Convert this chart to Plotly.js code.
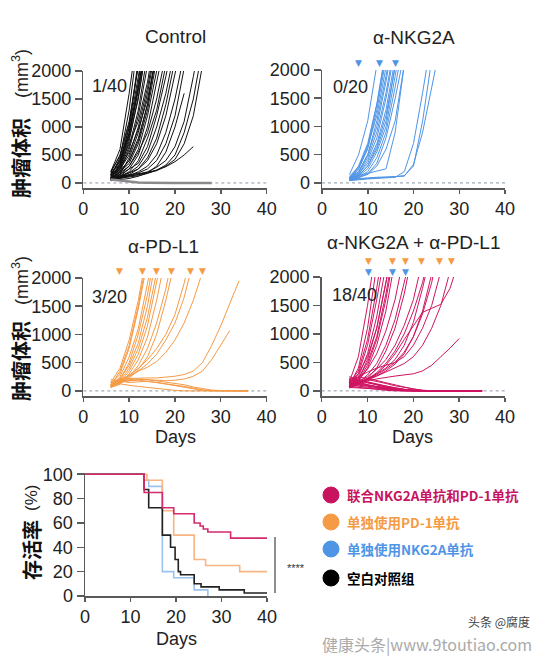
<!DOCTYPE html>
<html><head><meta charset="utf-8">
<script src="https://cdn.plot.ly/plotly-3.0.1.min.js"></script>
<style>html,body{margin:0;padding:0;background:#fff;}#chart{width:543px;height:656px;}</style>
</head><body><div id="chart"></div>
<script>
// ---------------- DATA ----------------
const xTickVals = [0, 10, 20, 30, 40];
const yTickVals = [0, 500, 1000, 1500, 2000];
const ctrlYTickText = ['0', '500', '000', '1500', '2000'];
const yTickText = ['0', '500', '1000', '1500', '2000'];
const survTickVals = [0, 20, 40, 60, 80, 100];

const panelTitles = ['Control', 'α-NKG2A', 'α-PD-L1', 'α-NKG2A + α-PD-L1'];
const fractions = ['1/40', '0/20', '3/20', '18/40'];

// measurement days (tumour volume, mm^3)
const ctrlDays = [6, 8, 10, 12, 14, 16, 18, 20, 22, 24, 26, 28];
const ctrlCurves = [
  [120, 450, 1300, 2600],
  [200, 600, 1600, 2800],
  [80, 350, 1000, 2200],
  [150, 400, 900, 1800, 3000],
  [100, 300, 800, 1500, 2600],
  [60, 250, 650, 1300, 2300],
  [180, 500, 1100, 2100],
  [90, 200, 600, 1200, 2100],
  [140, 300, 700, 1100, 1800, 2800],
  [70, 150, 450, 900, 1600, 2500],
  [110, 250, 500, 1000, 1700, 2600],
  [50, 200, 400, 800, 1400, 2300],
  [130, 200, 350, 700, 1300, 2200],
  [100, 180, 300, 600, 1200, 2000, 2800],
  [60, 120, 250, 500, 1000, 1700, 2600],
  [160, 220, 400, 750, 1400, 2400],
  [90, 150, 300, 550, 900, 1500, 2300],
  [70, 110, 200, 400, 800, 1300, 2100],
  [120, 150, 250, 350, 650, 1200, 1900, 2700],
  [80, 100, 180, 300, 550, 1000, 1600, 2400],
  [60, 90, 150, 250, 450, 800, 1400, 2200],
  [100, 130, 180, 250, 400, 700, 1200, 1900, 2700],
  [50, 80, 130, 200, 300, 500, 900, 1500, 2300],
  [90, 110, 140, 180, 250, 400, 700, 1200, 1900, 2900],
  [70, 90, 120, 150, 200, 280, 400, 650, 1100, 1900, 2800],
  [60, 80, 100, 130, 170, 230, 320, 500, 900, 1500, 2400],
  [80, 100, 120, 150, 180, 220, 300, 420, 700, 1200, 2100],
  [100, 120, 140, 160, 190, 230, 290, 380, 500, 650],
  [40, 60, 80, 120, 180, 300, 550, 1000, 1600],
  [150, 350, 900, 1700, 2700],
  [210, 480, 1050, 2100],
  [110, 260, 750, 1550, 2500],
  [170, 380, 850, 1650, 2600],
  [130, 280, 550, 950, 1500, 2300],
  [90, 330, 850, 1700, 2600],
  [140, 420, 980, 1900, 2900]
];
const ctrlFlat = [60, 40, 20, 10, 5, 0, 0, 0, 0, 0, 0, 0];

const nkgDays = [6, 8, 10, 12, 14, 16, 18, 20, 22, 24, 26];
const nkgCurves = [
  [150, 500, 1100, 2100],
  [80, 300, 700, 1400, 2300],
  [60, 250, 600, 1300, 2200],
  [120, 280, 650, 1200, 2050],
  [90, 200, 500, 1000, 1800, 2700],
  [70, 180, 450, 900, 1600, 2500],
  [50, 150, 400, 800, 1500, 2400],
  [100, 160, 350, 700, 1300, 2200],
  [60, 130, 300, 650, 1200, 2000, 2900],
  [80, 140, 300, 600, 1100, 2100],
  [70, 120, 250, 550, 1000, 1900, 2800],
  [50, 100, 200, 450, 900, 1700, 2600],
  [90, 130, 180, 220, 250, 900, 2100],
  [60, 80, 90, 100, 100, 110, 130, 300, 1100, 2200],
  [50, 70, 80, 90, 100, 110, 120, 330, 900, 1700, 2500],
  [40, 60, 70, 80, 90, 100, 200, 700, 1600, 2600],
  [70, 200, 500, 1100, 1900, 2800],
  [100, 250, 650, 1400, 2400],
  [60, 100, 150, 300, 600, 1100, 2100],
  [50, 90, 160, 350, 800, 1500, 2300]
];
const nkgDoseDays = [8, 12.5, 16];

const pdDays = [6, 8, 10, 12, 14, 16, 18, 20, 22, 24, 26, 28, 30, 32, 34, 36];
const pdCurves = [
  [150, 400, 900, 1600, 2500],
  [100, 350, 800, 1500, 2400],
  [110, 300, 750, 1450, 2300],
  [80, 250, 600, 1100, 1900, 2700],
  [60, 200, 500, 1000, 1700, 2600],
  [100, 220, 450, 850, 1500, 2400],
  [90, 180, 400, 750, 1300, 2100],
  [70, 150, 350, 650, 1150, 1900, 2700],
  [60, 120, 300, 550, 950, 1600, 2400],
  [80, 140, 250, 450, 750, 1200, 1800, 2600],
  [70, 130, 220, 380, 600, 1000, 1600, 2300],
  [100, 180, 280, 400, 550, 750, 1000, 1350, 1900, 2600],
  [90, 160, 250, 350, 480, 650, 900, 1200, 1650, 2300],
  [120, 200, 280, 350, 420, 520, 680, 900, 1200, 1600, 2100],
  [150, 200, 220, 230, 230, 230, 240, 260, 290, 350, 500, 800, 1150, 1550, 1950],
  [100, 150, 180, 200, 200, 190, 180, 190, 210, 260, 350, 550, 800, 1070],
  [200, 180, 150, 160, 170, 150, 120, 90, 60, 30, 10, 0, 0, 0, 0, 0],
  [150, 120, 100, 80, 60, 40, 20, 10, 0, 0, 0, 0, 0, 0, 0, 0],
  [100, 160, 180, 190, 170, 150, 130, 100, 80, 50, 20, 5, 0, 0, 0, 0],
  [120, 170, 200, 210, 200, 180, 160, 140, 110, 70, 40, 15, 5, 0, 0, 0]
];
const pdDoseDays = [8, 13, 16, 19.3, 23.3, 26];

const comboDays = [6, 8, 10, 12, 14, 16, 18, 20, 22, 24, 26, 28, 30, 32, 35];
const comboCurves = [
  [150, 600, 1500, 2600],
  [100, 400, 1100, 2200],
  [120, 350, 900, 1800, 2800],
  [80, 300, 800, 1600, 2500],
  [90, 250, 650, 1300, 2200],
  [60, 200, 550, 1100, 1900, 2700],
  [110, 220, 500, 950, 1700, 2600],
  [70, 170, 400, 800, 1400, 2300],
  [140, 300, 600, 1100, 1900, 2700],
  [60, 180, 450, 900, 1600, 2500],
  [100, 200, 380, 650, 1050, 1600, 2400],
  [80, 150, 280, 480, 800, 1250, 1900, 2600],
  [50, 110, 220, 400, 700, 1100, 1700, 2500],
  [100, 160, 250, 380, 550, 800, 1150, 1600, 2300],
  [60, 120, 200, 320, 480, 700, 1000, 1400, 1900, 2600],
  [90, 140, 220, 300, 400, 550, 800, 1200, 1800, 2500],
  [80, 130, 190, 260, 350, 470, 650, 950, 1400, 2050],
  [70, 130, 200, 280, 380, 500, 680, 950, 1350, 1900, 2700],
  [150, 250, 330, 400, 450, 500, 600, 800, 1100, 1500, 2100],
  [100, 150, 200, 260, 330, 400, 480, 600, 800, 1100, 1500, 2100],
  [60, 120, 200, 300, 450, 650, 900, 1150, 1380, 1450, 1520, 1800, 2300],
  [90, 140, 180, 210, 240, 260, 280, 300, 350, 450, 600, 750, 920],
  [200, 150, 100, 60, 30, 10, 0, 0, 0, 0, 0, 0, 0, 0, 0],
  [150, 120, 90, 60, 40, 20, 10, 0, 0, 0, 0, 0, 0, 0, 0],
  [100, 80, 60, 40, 20, 10, 0, 0, 0, 0, 0, 0, 0, 0, 0],
  [250, 200, 150, 100, 60, 30, 10, 0, 0, 0, 0, 0, 0, 0, 0],
  [180, 200, 160, 120, 80, 50, 20, 5, 0, 0, 0, 0, 0, 0, 0],
  [120, 150, 140, 110, 80, 50, 30, 10, 0, 0, 0, 0, 0, 0, 0],
  [80, 60, 40, 20, 10, 0, 0, 0, 0, 0, 0, 0, 0, 0, 0],
  [220, 180, 140, 100, 70, 40, 20, 10, 0, 0, 0, 0, 0, 0, 0],
  [160, 140, 110, 80, 60, 40, 25, 15, 5, 0, 0, 0, 0, 0, 0],
  [140, 180, 200, 170, 130, 90, 60, 30, 10, 0, 0, 0, 0, 0, 0],
  [90, 100, 80, 60, 40, 20, 10, 0, 0, 0, 0, 0, 0, 0, 0],
  [60, 50, 40, 30, 20, 10, 0, 0, 0, 0, 0, 0, 0, 0, 0],
  [200, 240, 220, 180, 140, 100, 60, 30, 10, 0, 0, 0, 0, 0, 0],
  [130, 110, 90, 70, 50, 30, 15, 5, 0, 0, 0, 0, 0, 0, 0]
];
const comboPdDoseDays = [10.3, 15.4, 18.3, 21.7, 25.7, 28.3];
const comboNkgDoseDays = [10.3, 15.4, 18.3];

// survival (%) — step curves
const survComboDays = [0, 13, 17, 19.5, 24, 25.3, 26, 27, 32, 40];
const survComboPct = [100, 85, 72.5, 67.5, 60, 57.5, 55, 52.5, 47.5, 47.5];
const survPdDays = [0, 13.6, 17, 19.5, 24, 26.5, 34, 40];
const survPdPct = [100, 95, 70, 50, 30, 25, 20, 20];
const survNkgDays = [0, 13, 14, 17, 19.5, 24, 27];
const survNkgPct = [100, 95, 90, 20, 15, 5, 0];
const survCtrlDays = [0, 13, 14, 17, 18.8, 19.8, 20.5, 21, 24, 25.5, 29.5, 35, 40];
const survCtrlPct = [100, 87.5, 72.5, 50, 40, 30, 20, 17.5, 10, 7.5, 5, 2.5, 2.5];

const legendLabels = ['联合NKG2A单抗和PD-1单抗', '单独使用PD-1单抗', '单独使用NKG2A单抗', '空白对照组'];

// ---------------- STYLE / LAYOUT ----------------
const W = 543, H = 656;
const px = v => v / W;
const py = v => 1 - v / H;
const C = { ctrl: '#111111', nkg: '#4f95e6', pd: '#f59a45', combo: '#cf1462' };
const SURV = { ctrl: '#222222', nkg: '#9cc2ee', pd: '#f6b583', combo: '#d42a6e' };
const LEG = ['#c8135f', '#f59a45', '#4f95e6', '#000000'];
const FONT = 'Liberation Sans, Arial, Helvetica, sans-serif';
const CJK = 'Noto Sans CJK SC, sans-serif';
const AX = '#5a5a5a';

const traces = [];
function addCurves(days, curves, xa, ya, color, width) {
  curves.forEach(v => {
    traces.push({ x: days.slice(0, v.length), y: v, xaxis: xa, yaxis: ya, mode: 'lines',
      line: { color: color, width: width || 1 }, hoverinfo: 'skip', showlegend: false });
  });
}
addCurves(ctrlDays, ctrlCurves, 'x', 'y', C.ctrl, 1);
traces.push({ x: ctrlDays, y: ctrlFlat, xaxis: 'x', yaxis: 'y', mode: 'lines',
  line: { color: '#8a8a8a', width: 2.5 }, hoverinfo: 'skip', showlegend: false });
addCurves(nkgDays, nkgCurves, 'x2', 'y2', C.nkg, 1);
addCurves(pdDays, pdCurves, 'x3', 'y3', C.pd, 1);
addCurves(comboDays, comboCurves, 'x4', 'y4', C.combo, 1);

function addSurv(d, p, color) {
  traces.push({ x: d, y: p, xaxis: 'x5', yaxis: 'y5', mode: 'lines', line: { shape: 'hv', color: color, width: 1.6 },
    hoverinfo: 'skip', showlegend: false });
}
addSurv(survNkgDays, survNkgPct, SURV.nkg);
addSurv(survPdDays, survPdPct, SURV.pd);
addSurv(survCtrlDays, survCtrlPct, SURV.ctrl);
addSurv(survComboDays, survComboPct, SURV.combo);

function xAxis(x0, x1, anchor) {
  return { domain: [px(x0), px(x1)], range: [0, 40], anchor: anchor, tickvals: xTickVals,
    ticks: 'outside', ticklen: 4, tickwidth: 1.5, tickcolor: AX, showline: true, linecolor: AX, linewidth: 1.5,
    showgrid: false, zeroline: false, tickfont: { family: FONT, size: 18, color: '#222' }, fixedrange: true };
}
function yAxis(top, bottom, anchor, range, vals, text) {
  return { domain: [py(bottom), py(top)], range: range, anchor: anchor, tickvals: vals, ticktext: text,
    ticks: 'outside', ticklen: 7, tickwidth: 1.5, tickcolor: AX, showline: true, linecolor: AX, linewidth: 1.5,
    showgrid: false, zeroline: false, tickfont: { family: FONT, size: 18, color: '#222' }, fixedrange: true };
}

const ann = [];
function txt(text, x, y, size, color, opts) {
  ann.push(Object.assign({ text: text, x: px(x), y: py(y), xref: 'paper', yref: 'paper', showarrow: false,
    font: { family: FONT, size: size, color: color || '#222' }, xanchor: 'center', yanchor: 'middle' }, opts || {}));
}
// dosing triangles (x in data days)
function doses(days, xa, yPix, color) {
  days.forEach(d => {
    ann.push({ text: '▼', x: d, xref: xa, y: py(yPix), yref: 'paper', showarrow: false,
      font: { family: 'DejaVu Sans, sans-serif', size: 9, color: color }, xanchor: 'center', yanchor: 'middle' });
  });
}
doses(nkgDoseDays, 'x2', 63, C.nkg);
doses(pdDoseDays, 'x3', 271, C.pd);
doses(comboPdDoseDays, 'x4', 261, C.pd);
doses(comboNkgDoseDays, 'x4', 272, C.nkg);

txt(panelTitles[0], 175, 36, 19);
txt(panelTitles[1], 414, 37, 19);
txt(panelTitles[2], 163, 246, 19);
txt(panelTitles[3], 414, 243, 19);
txt(fractions[0], 109, 86, 18);
txt(fractions[1], 350, 87, 18);
txt(fractions[2], 109, 297, 18);
txt(fractions[3], 354, 295, 18);
txt('Days', 175, 437, 18);
txt('Days', 413, 437, 18);
txt('Days', 176, 639, 18);
// y titles
[[74, 158], [281, 361]].forEach(p => {
  txt('(mm<sup>3</sup>)', 20, p[0], 18, '#222', { textangle: -90 });
  txt('<b>肿瘤体积</b>', 20, p[1], 20, '#111', { textangle: -90, font: { family: CJK, size: 20, color: '#111' } });
});
txt('(%)', 31, 498, 17, '#222', { textangle: -90 });
txt('<b>存活率</b>', 31, 550, 20, '#111', { textangle: -90, font: { family: CJK, size: 20, color: '#111' } });
// significance
txt('****', 296, 568, 11, '#333');
// legend text
const legY = [495, 522, 549, 578];
legendLabels.forEach((t, i) => {
  txt('<b>' + t + '</b>', 345, legY[i], 13.5, LEG[i], { xanchor: 'left', font: { family: CJK, size: 13.5, color: LEG[i] } });
});
// watermark
txt('头条 @腐度', 532, 621, 12, '#444', { xanchor: 'right', font: { family: CJK, size: 12, color: '#444' } });
txt('健康头条|www.9toutiao.com', 534, 644, 16, '#aaa', { xanchor: 'right', font: { family: CJK, size: 16, color: '#aaa' } });

const shapes = [];
['y', 'y2', 'y3', 'y4'].forEach((ya, i) => {
  shapes.push({ type: 'line', xref: ['x', 'x2', 'x3', 'x4'][i], yref: ya, x0: 0, x1: 40, y0: 0, y1: 0,
    line: { color: '#8a96a8', width: 1, dash: 'dot' }, layer: 'below' });
});
shapes.push({ type: 'line', xref: 'paper', yref: 'paper', x0: px(275), x1: px(275), y0: py(537), y1: py(593),
  line: { color: '#444', width: 1.2 } });
legY.forEach((y, i) => {
  shapes.push({ type: 'circle', xref: 'paper', yref: 'paper', x0: px(323), x1: px(339), y0: py(y - 8), y1: py(y + 8),
    fillcolor: LEG[i], line: { color: LEG[i], width: 1 } });
});

const layout = {
  width: W, height: H, margin: { l: 0, r: 0, t: 0, b: 0 }, paper_bgcolor: '#fff', plot_bgcolor: 'rgba(0,0,0,0)',
  showlegend: false,
  xaxis: xAxis(83.3, 266.7, 'y'),
  yaxis: yAxis(71, 188, 'x', [-90, 2000], yTickVals, ctrlYTickText),
  xaxis2: xAxis(322, 505, 'y2'),
  yaxis2: yAxis(70, 188, 'x2', [-90, 2000], yTickVals, yTickText),
  xaxis3: xAxis(83.3, 266.5, 'y3'),
  yaxis3: yAxis(278, 396, 'x3', [-90, 2000], yTickVals, yTickText),
  xaxis4: xAxis(321.7, 505, 'y4'),
  yaxis4: yAxis(277, 396, 'x4', [-90, 2000], yTickVals, yTickText),
  xaxis5: xAxis(85, 267, 'y5'),
  yaxis5: yAxis(473, 596, 'x5', [0, 101], survTickVals, survTickVals.map(String)),
  annotations: ann, shapes: shapes
};
Plotly.newPlot('chart', traces, layout, { staticPlot: true, displayModeBar: false });
</script></body></html>
